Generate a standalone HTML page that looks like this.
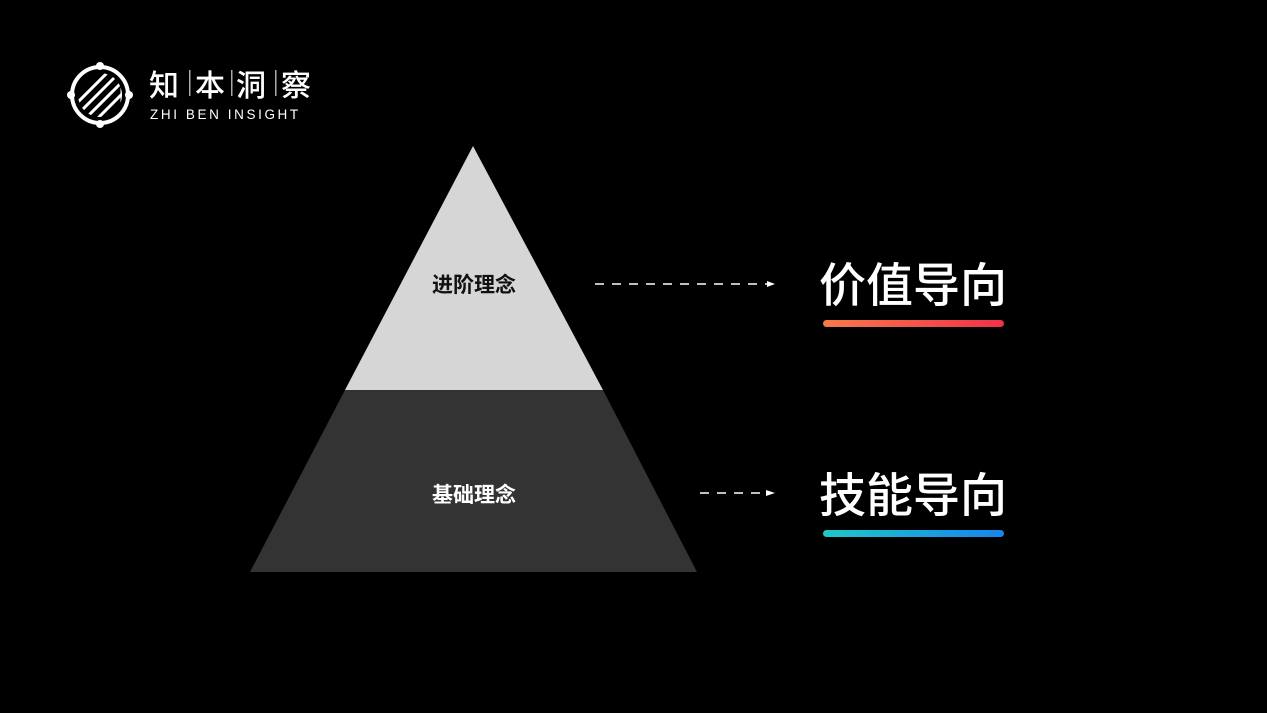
<!DOCTYPE html>
<html><head><meta charset="utf-8"><style>
html,body{margin:0;padding:0;background:#000;}
body{width:1267px;height:713px;overflow:hidden;position:relative;}
svg{position:absolute;left:0;top:0;}
</style></head><body>
<svg width="1267" height="713" viewBox="0 0 1267 713" xmlns="http://www.w3.org/2000/svg">
<defs>
<linearGradient id="g1" x1="0" x2="1"><stop offset="0" stop-color="#f7794a"/><stop offset="1" stop-color="#ef3248"/></linearGradient>
<linearGradient id="g2" x1="0" x2="1"><stop offset="0" stop-color="#1fc8c8"/><stop offset="1" stop-color="#1784ee"/></linearGradient>
<clipPath id="cc"><circle cx="100" cy="95" r="22"/></clipPath>
</defs>
<rect width="1267" height="713" fill="#000"/>
<!-- logo -->
<circle cx="100" cy="95" r="28" fill="none" stroke="#fff" stroke-width="4"/>
<circle cx="100" cy="66" r="4" fill="#fff"/><circle cx="100" cy="124" r="4" fill="#fff"/>
<circle cx="71" cy="95" r="4" fill="#fff"/><circle cx="129" cy="95" r="4" fill="#fff"/>
<g clip-path="url(#cc)" stroke="#fff" stroke-width="3">
<line x1="70" y1="110" x2="110" y2="70"/><line x1="76" y1="116" x2="116" y2="76"/>
<line x1="82" y1="122" x2="122" y2="82"/><line x1="88" y1="128" x2="128" y2="88"/>
<line x1="76" y1="80" x2="76" y2="112"/><line x1="122" y1="82" x2="122" y2="110"/>
</g>
<g font-family="Liberation Sans, Noto Sans CJK SC, sans-serif" fill="#fff">
<text x="149" y="96" font-size="30" font-weight="500">知</text>
<text x="195" y="96" font-size="30" font-weight="500">本</text>
<text x="236" y="96" font-size="30" font-weight="500">洞</text>
<text x="281" y="96" font-size="30" font-weight="500">察</text>
<rect x="189" y="70" width="1.5" height="26" fill="#aaa"/>
<rect x="231" y="70" width="1.5" height="26" fill="#aaa"/>
<rect x="275" y="70" width="1.5" height="26" fill="#aaa"/>
<text x="150" y="119" font-size="13.5" letter-spacing="2.6">ZHI BEN INSIGHT</text>
</g>
<!-- pyramid -->
<polygon points="473,146 603,390 345,390" fill="#d6d6d6"/>
<polygon points="345,390 603,390 697,572 250,572" fill="#333"/>
<g font-family="Liberation Sans, Noto Sans CJK SC, sans-serif" font-weight="bold" font-size="21" text-anchor="middle">
<text x="474" y="292" fill="#111">进阶理念</text>
<text x="474" y="502" fill="#fff">基础理念</text>
</g>
<!-- arrows -->
<line x1="595" y1="284" x2="768" y2="284" stroke="#fff" stroke-width="1.5" stroke-dasharray="9,8"/>
<polygon points="767,281 775,284 767,287" fill="#fff"/>
<line x1="700" y1="493" x2="768" y2="493" stroke="#fff" stroke-width="1.5" stroke-dasharray="9,8"/>
<polygon points="766,490 775,493 766,496" fill="#fff"/>
<g font-family="Liberation Sans, Noto Sans CJK SC, sans-serif" font-weight="500" font-size="47" fill="#fff">
<text x="819" y="302">价值导向</text>
<text x="819" y="512">技能导向</text>
</g>
<rect x="823" y="320" width="181" height="7" rx="3.5" fill="url(#g1)"/>
<rect x="823" y="530" width="181" height="7" rx="3.5" fill="url(#g2)"/>
</svg>
</body></html>
